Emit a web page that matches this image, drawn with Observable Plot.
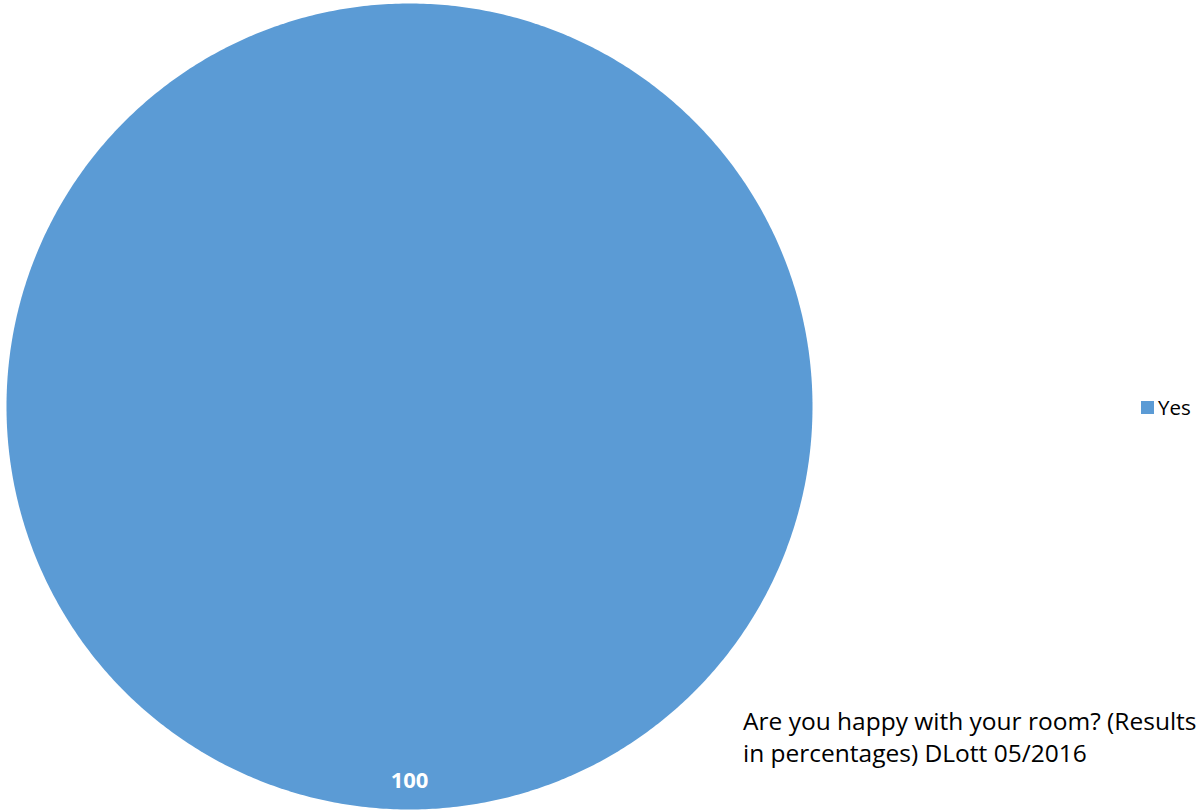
<!DOCTYPE html>
<html>
<head>
<meta charset="utf-8">
<script src="https://cdn.jsdelivr.net/npm/d3@7"></script>
<script src="https://cdn.jsdelivr.net/npm/@observablehq/plot@0.6"></script>
<style>
  html, body { margin: 0; padding: 0; background: #fff; overflow: hidden; }
  #wrap { position: relative; width: 1197px; height: 810px; overflow: hidden; font-family: "Open Sans", Lato, sans-serif; }
  #legend { position: absolute; left: 1141px; top: 393px; font-size: 20.5px; color: #000; display: flex; align-items: center; }
  #legend .sw { width: 13px; height: 13px; background: #5B9BD5; margin-right: 4px; }
  #caption { position: absolute; left: 743px; top: 705px; font-size: 24.5px; line-height: 32px; color: #000; white-space: nowrap; }
</style>
</head>
<body>
<div id="wrap">
  <div id="chart"></div>
  <div id="legend"></div>
  <div id="caption"></div>
</div>
<script>
const categories = ["Yes"];
const values = [100];
const colors = ["#5B9BD5"];
const captionLines = ["Are you happy with your room? (Results", "in percentages) DLott 05/2016"];

const data = categories.map((c, i) => ({category: c, value: values[i]}));
const arcs = d3.pie().sort(null).value(d => d.value)(data);

// polygon points for each slice, from the pie angles
const pts = [];
arcs.forEach(a => {
  const n = Math.max(2, Math.ceil((a.endAngle - a.startAngle) / (Math.PI / 360)));
  const full = (a.endAngle - a.startAngle) >= 2 * Math.PI - 1e-9;
  if (!full) pts.push({category: a.data.category, x: 0, y: 0});
  for (let k = 0; k <= n; k++) {
    const t = a.startAngle + (a.endAngle - a.startAngle) * k / n;
    pts.push({category: a.data.category, x: Math.sin(t), y: Math.cos(t)});
  }
});
const labels = arcs.map(a => {
  const m = (a.startAngle + a.endAngle) / 2;
  const r = 0.93;
  return {label: String(a.data.value), x: r * Math.sin(m), y: r * Math.cos(m)};
});

const chart = Plot.plot({
  width: 1197,
  height: 810,
  marginLeft: 6,
  marginRight: 385,
  marginTop: 3,
  marginBottom: 1,
  x: {domain: [-1, 1], axis: null},
  y: {domain: [-1, 1], axis: null},
  color: {domain: categories, range: colors},
  marks: [
    Plot.line(pts, {x: "x", y: "y", z: "category", fill: "category", stroke: "none", curve: "linear-closed"}),
    Plot.text(labels, {x: "x", y: "y", text: "label", fill: "white", fontSize: 22, fontWeight: "bold", fontFamily: "'Open Sans', Lato, sans-serif"})
  ]
});
document.getElementById("chart").appendChild(chart);

const leg = document.getElementById("legend");
categories.forEach((c, i) => {
  const sw = document.createElement("span"); sw.className = "sw"; sw.style.background = colors[i];
  const tx = document.createElement("span"); tx.textContent = c;
  leg.appendChild(sw); leg.appendChild(tx);
});
const cap = document.getElementById("caption");
captionLines.forEach(l => { const d = document.createElement("div"); d.textContent = l; cap.appendChild(d); });
</script>
</body>
</html>
